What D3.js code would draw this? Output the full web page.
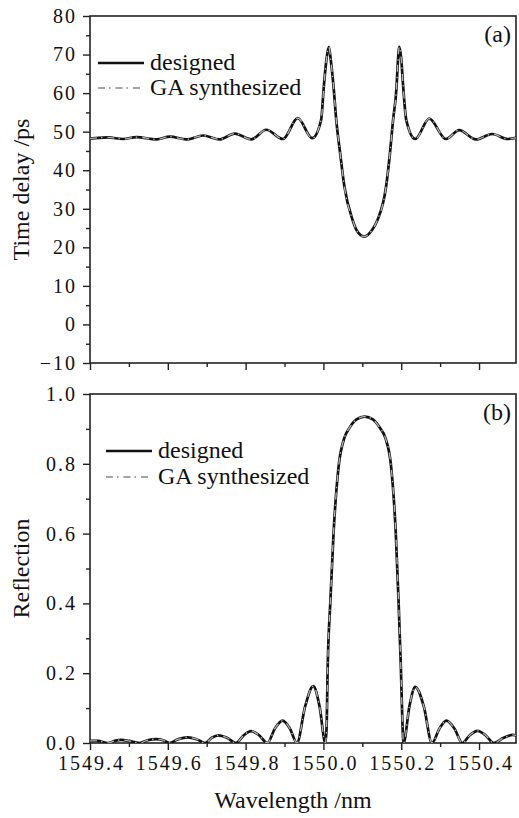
<!DOCTYPE html>
<html>
<head>
<meta charset="utf-8">
<script src="https://cdn.jsdelivr.net/npm/d3@7"></script>
<style>
  html, body { margin: 0; padding: 0; background: #fff; }
</style>
</head>
<body>
<div id="chart"></div>
<script>
// Wavelength ticks (nm)
const xMajor = [1549.4, 1549.6, 1549.8, 1550.0, 1550.2, 1550.4];
const xMinor = [1549.5, 1549.7, 1549.9, 1550.1, 1550.3];

// Panel (a) ticks
const delayMajor = [-10, 0, 10, 20, 30, 40, 50, 60, 70, 80];
const delayMinor = [-5, 5, 15, 25, 35, 45, 55, 65, 75];

// Panel (b) ticks
const reflMajor = [0, 0.2, 0.4, 0.6, 0.8, 1.0];
const reflMinor = [0.1, 0.3, 0.5, 0.7, 0.9];

// Panel (a): time delay (ps)
const delayWl = [1549.400, 1549.423, 1549.446, 1549.485, 1549.520, 1549.571, 1549.605, 1549.648,
  1549.691, 1549.733, 1549.772, 1549.815, 1549.853, 1549.896, 1549.934, 1549.971, 1549.994,
  1550.001, 1550.008, 1550.014, 1550.019, 1550.026, 1550.033, 1550.043, 1550.054, 1550.075,
  1550.085, 1550.105, 1550.125, 1550.139, 1550.161, 1550.171, 1550.179, 1550.188, 1550.191,
  1550.195, 1550.200, 1550.205, 1550.213, 1550.236, 1550.272, 1550.315, 1550.349, 1550.392,
  1550.434, 1550.473, 1550.495];
const delayDesigned = [48.2, 48.4, 48.5, 48.1, 48.6, 48.0, 48.7, 48.0,
  49.0, 48.0, 49.5, 48.0, 50.5, 48.1, 53.5, 48.3, 53.0,
  61.7, 68.9, 72.0, 68.5, 61.7, 53.0, 44.4, 35.7, 27.1,
  24.5, 22.8, 24.5, 27.1, 35.7, 44.4, 53.0, 61.7, 67.5,
  72.0, 68.9, 61.7, 53.0, 48.1, 53.4, 48.1, 50.4, 48.0,
  49.4, 48.1, 48.4];
// GA synthesized curve lies on top of the designed one
const delayGA = [48.2, 48.4, 48.5, 48.1, 48.6, 48.0, 48.7, 48.0,
  49.0, 48.0, 49.5, 48.0, 50.5, 48.1, 53.5, 48.3, 53.0,
  61.7, 68.9, 72.0, 68.5, 61.7, 53.0, 44.4, 35.7, 27.1,
  24.5, 22.8, 24.5, 27.1, 35.7, 44.4, 53.0, 61.7, 67.5,
  72.0, 68.9, 61.7, 53.0, 48.1, 53.4, 48.1, 50.4, 48.0,
  49.4, 48.1, 48.4];

// Panel (b): reflection
const reflWl = [1549.400, 1549.420, 1549.446, 1549.463, 1549.480, 1549.500, 1549.527, 1549.548,
  1549.570, 1549.588, 1549.604, 1549.627, 1549.651, 1549.674, 1549.696, 1549.713, 1549.730,
  1549.752, 1549.775, 1549.795, 1549.814, 1549.835, 1549.856, 1549.875, 1549.895, 1549.914,
  1549.932, 1549.953, 1549.974, 1549.990, 1550.005, 1550.008, 1550.011, 1550.018, 1550.026,
  1550.039, 1550.054, 1550.067, 1550.085, 1550.106, 1550.127, 1550.145, 1550.159, 1550.174,
  1550.186, 1550.193, 1550.199, 1550.203, 1550.206, 1550.221, 1550.236, 1550.258, 1550.279,
  1550.298, 1550.316, 1550.337, 1550.357, 1550.376, 1550.396, 1550.417, 1550.438, 1550.462,
  1550.487, 1550.495];
const reflDesigned = [0.006, 0.006, 0.000, 0.006, 0.009, 0.006, 0.000, 0.008,
  0.011, 0.008, 0.000, 0.011, 0.016, 0.011, 0.000, 0.015, 0.022,
  0.015, 0.000, 0.022, 0.034, 0.022, 0.000, 0.041, 0.064, 0.041,
  0.000, 0.105, 0.163, 0.105, 0.000, 0.040, 0.219, 0.410, 0.601,
  0.792, 0.875, 0.903, 0.927, 0.935, 0.927, 0.903, 0.875, 0.792,
  0.601, 0.410, 0.219, 0.060, 0.000, 0.105, 0.161, 0.105, 0.000,
  0.041, 0.064, 0.041, 0.000, 0.022, 0.035, 0.022, 0.000, 0.014,
  0.023, 0.022];
const reflGA = [0.006, 0.006, 0.000, 0.006, 0.009, 0.006, 0.000, 0.008,
  0.011, 0.008, 0.000, 0.011, 0.016, 0.011, 0.000, 0.015, 0.022,
  0.015, 0.000, 0.022, 0.034, 0.022, 0.000, 0.041, 0.064, 0.041,
  0.000, 0.105, 0.163, 0.105, 0.000, 0.040, 0.219, 0.410, 0.601,
  0.792, 0.875, 0.903, 0.927, 0.935, 0.927, 0.903, 0.875, 0.792,
  0.601, 0.410, 0.219, 0.060, 0.000, 0.105, 0.161, 0.105, 0.000,
  0.041, 0.064, 0.041, 0.000, 0.022, 0.035, 0.022, 0.000, 0.014,
  0.023, 0.022];

const legendNames = ["designed", "GA synthesized"];

const FONT = "'Liberation Serif'";
const W = 519, H = 818;
const left = 90, right = 516;

const svg = d3.select("#chart").append("svg")
    .attr("width", W)
    .attr("height", H);

const x = d3.scaleLinear()
    .domain([1549.4, 1550.495])
    .range([left, right]);

const designedStyle = {stroke: "#111", width: 2.7, dash: null};
const gaStyle = {stroke: "#b4b4b4", width: 1.3, dash: "7,4,1.5,5"};

function styleText(sel, size){
    sel.style("font-family", FONT)
       .style("font-size", size + "px")
       .attr("fill", "#111");
}

function buildPanel(opt){
    const g = svg.append("g");
    const y = d3.scaleLinear().domain(opt.yDomain).range([opt.bottom, opt.top]);

    // clip for the curves
    const clipId = "clip-" + opt.tag;
    svg.append("clipPath").attr("id", clipId)
      .append("rect")
        .attr("x", left).attr("y", opt.top)
        .attr("width", right - left).attr("height", opt.bottom - opt.top);

    // minor ticks
    g.append("g")
        .attr("transform", "translate(" + left + ",0)")
        .call(d3.axisLeft(y).tickValues(opt.yMinor).tickSize(4).tickFormat(""))
        .call(a => a.select(".domain").remove());
    g.append("g")
        .attr("transform", "translate(0," + opt.bottom + ")")
        .call(d3.axisBottom(x).tickValues(xMinor).tickSize(4).tickFormat(""))
        .call(a => a.select(".domain").remove());

    // major ticks
    g.append("g")
        .attr("transform", "translate(" + left + ",0)")
        .call(d3.axisLeft(y).tickValues(opt.yMajor).tickSize(7).tickPadding(6).tickFormat(opt.yFormat))
        .call(a => a.select(".domain").remove())
        .call(a => a.selectAll("text")
            .call(styleText, 20)
            .style("letter-spacing", "2px"));
    g.append("g")
        .attr("transform", "translate(0," + opt.bottom + ")")
        .call(d3.axisBottom(x).tickValues(xMajor).tickSize(7).tickPadding(6)
            .tickFormat(opt.showX ? d3.format(".1f") : ""))
        .call(a => a.select(".domain").remove())
        .call(a => a.selectAll("text")
            .call(styleText, 20)
            .style("letter-spacing", "2px")
            .attr("dx", "1"));
    g.selectAll(".tick line").attr("stroke", "#222").attr("stroke-width", 1.4);

    // frame
    g.append("rect")
        .attr("x", left).attr("y", opt.top)
        .attr("width", right - left).attr("height", opt.bottom - opt.top)
        .attr("fill", "none")
        .attr("stroke", "#222")
        .attr("stroke-width", 1.6);

    // curves
    const line = d3.line()
        .x(d => x(d[0]))
        .y(d => y(d[1]))
        .curve(d3.curveMonotoneX);

    [[opt.designed, designedStyle], [opt.ga, gaStyle]].forEach(([vals, st]) => {
        g.append("path")
            .datum(opt.wl.map((w, i) => [w, vals[i]]))
            .attr("clip-path", "url(#" + clipId + ")")
            .attr("fill", "none")
            .attr("stroke", st.stroke)
            .attr("stroke-width", st.width)
            .attr("stroke-dasharray", st.dash)
            .attr("stroke-linejoin", "round")
            .attr("d", line);
    });

    // legend
    const lg = g.append("g");
    [designedStyle, gaStyle].forEach((st, i) => {
        const ly = opt.legendY[i];
        lg.append("line")
            .attr("x1", opt.legendX).attr("x2", opt.legendX + 46)
            .attr("y1", ly).attr("y2", ly)
            .attr("stroke", i === 0 ? st.stroke : "#888")
            .attr("stroke-width", i === 0 ? st.width : 1.5)
            .attr("stroke-dasharray", st.dash);
        lg.append("text")
            .attr("x", opt.legendX + 52)
            .attr("y", ly + 7)
            .call(styleText, 24)
            .text(legendNames[i]);
    });

    // panel tag
    g.append("text")
        .attr("x", 511)
        .attr("y", opt.top + 26)
        .attr("text-anchor", "end")
        .call(styleText, 24)
        .text(opt.label);

    // y title
    g.append("text")
        .attr("transform", "translate(29," + ((opt.top + opt.bottom) / 2) + ") rotate(-90)")
        .attr("text-anchor", "middle")
        .call(styleText, 24)
        .text(opt.yTitle);
}

buildPanel({
    tag: "a", top: 16, bottom: 363, yDomain: [-10, 80],
    yMajor: delayMajor, yMinor: delayMinor,
    yFormat: d => d < 0 ? "\u2212" + Math.abs(d) : d,
    showX: false,
    wl: delayWl, designed: delayDesigned, ga: delayGA,
    legendX: 98, legendY: [63, 88],
    label: "(a)", yTitle: "Time delay /ps"
});

buildPanel({
    tag: "b", top: 394, bottom: 743, yDomain: [0, 1],
    yMajor: reflMajor, yMinor: reflMinor,
    yFormat: d3.format(".1f"),
    showX: true,
    wl: reflWl, designed: reflDesigned, ga: reflGA,
    legendX: 106, legendY: [451, 477],
    label: "(b)", yTitle: "Reflection"
});

// x title
svg.append("text")
    .attr("x", 293)
    .attr("y", 808)
    .attr("text-anchor", "middle")
    .call(styleText, 24)
    .text("Wavelength /nm");
</script>
</body>
</html>
